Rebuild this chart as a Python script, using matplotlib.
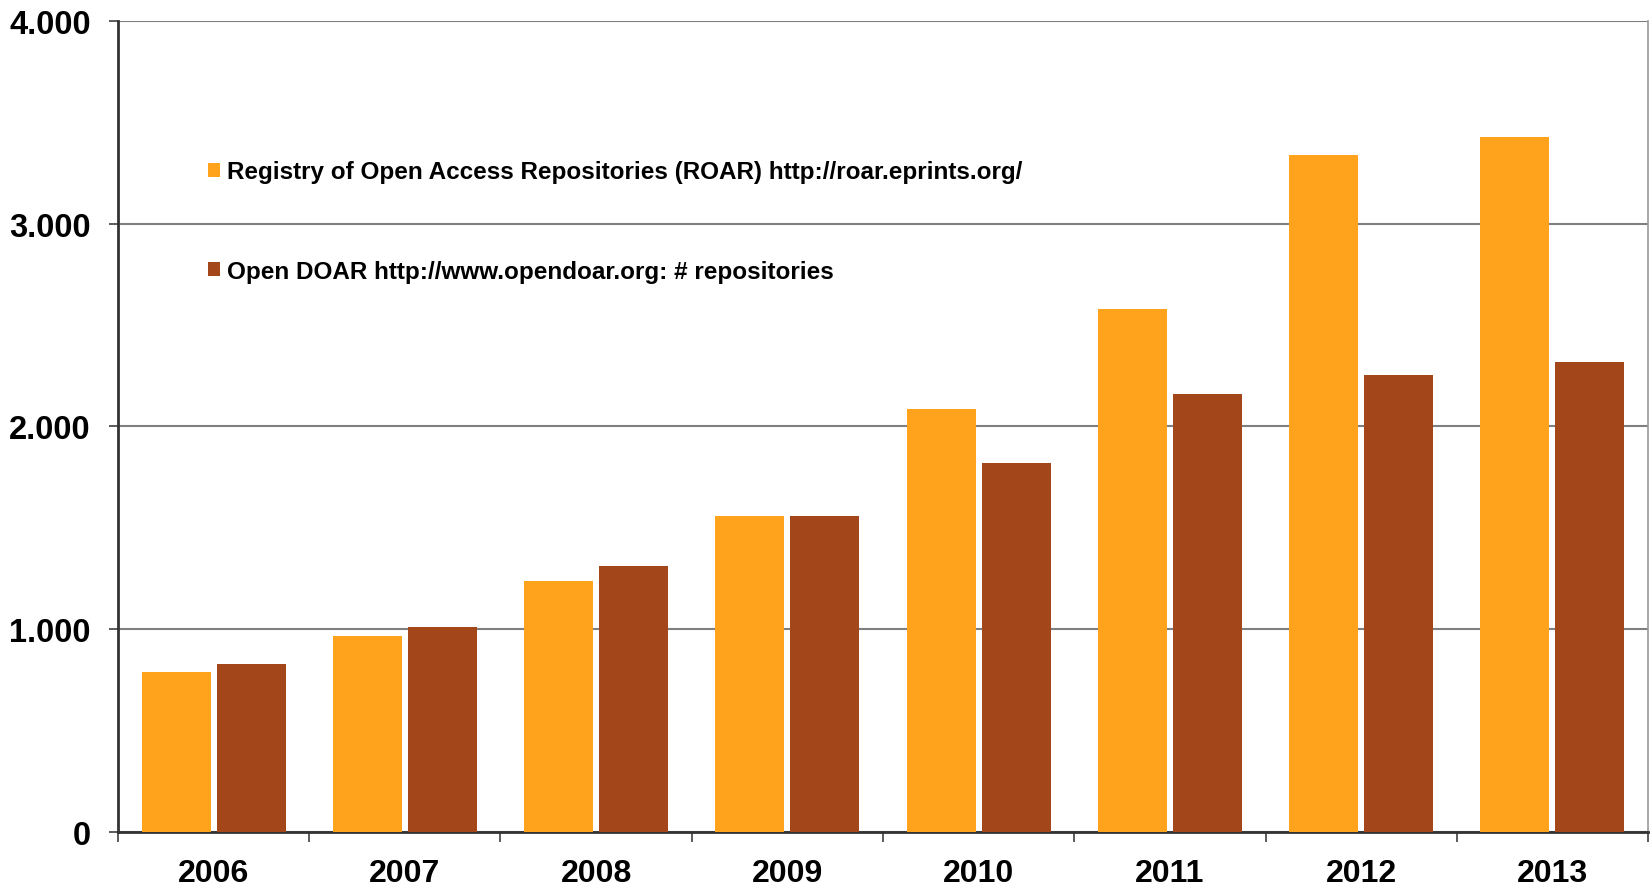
import numpy as np
import matplotlib.pyplot as plt
from matplotlib.patches import Patch
from matplotlib.ticker import FuncFormatter, FixedLocator

years = ['2006', '2007', '2008', '2009', '2010', '2011', '2012', '2013']
roar = [790, 965, 1238, 1560, 2088, 2580, 3338, 3428]
opendoar = [830, 1013, 1311, 1560, 1819, 2161, 2252, 2320]

roar_label = 'Registry of Open Access Repositories (ROAR) http://roar.eprints.org/'
doar_label = 'Open DOAR http://www.opendoar.org: # repositories'

orange = '#FFA31C'
brown = '#A3461A'

plt.rcParams['font.family'] = ['Liberation Sans', 'DejaVu Sans']
plt.rcParams['font.weight'] = 'bold'

fig = plt.figure(figsize=(16.5, 8.87), dpi=100)
ax = fig.add_axes([0.0715, 0.0609, 0.9273, 0.9143])

x = np.arange(len(years))
w = 0.36
gap = 0.016
ax.bar(x - w / 2 - gap, roar, width=w, color=orange, linewidth=0, zorder=3)
ax.bar(x + w / 2 + gap, opendoar, width=w, color=brown, linewidth=0, zorder=3)

ax.set_xlim(-0.5, len(years) - 0.5)
ax.set_ylim(0, 4000)

# y axis
ax.set_yticks([0, 1000, 2000, 3000, 4000])
ax.yaxis.set_major_formatter(FuncFormatter(lambda v, p: f"{int(v):,}".replace(',', '.')))
ax.tick_params(axis='y', direction='out', length=6.5, width=1.2, color='#404040',
               labelsize=23.5, pad=13)
ax.grid(axis='y', color='#7f7f7f', linewidth=1.5, zorder=1)

# x axis: labels at centers, ticks at boundaries
ax.set_xticks(x)
ax.set_xticklabels(years)
ax.xaxis.set_minor_locator(FixedLocator(np.arange(-0.5, len(years), 1.0)))
ax.tick_params(axis='x', which='major', length=0, labelsize=23, pad=19)
ax.tick_params(axis='x', which='minor', direction='out', length=7, width=1.2, color='#404040')

for s in ['left', 'bottom']:
    ax.spines[s].set_color('#333333')
    ax.spines[s].set_linewidth(2)
ax.spines['top'].set_visible(False)
ax.spines['right'].set_color('#9a9a9a')
ax.spines['right'].set_linewidth(1.2)

handles = [Patch(facecolor=orange, label=roar_label),
           Patch(facecolor=brown, label=doar_label)]
fig.legend(handles=handles, loc='upper left', bbox_to_anchor=(0.126, 0.818),
           frameon=False, fontsize=17.5, handlelength=0.5, handleheight=0.5,
           handletextpad=0.3, labelspacing=3.15, borderpad=0, borderaxespad=0)

fig.savefig('out.png', dpi=100)
